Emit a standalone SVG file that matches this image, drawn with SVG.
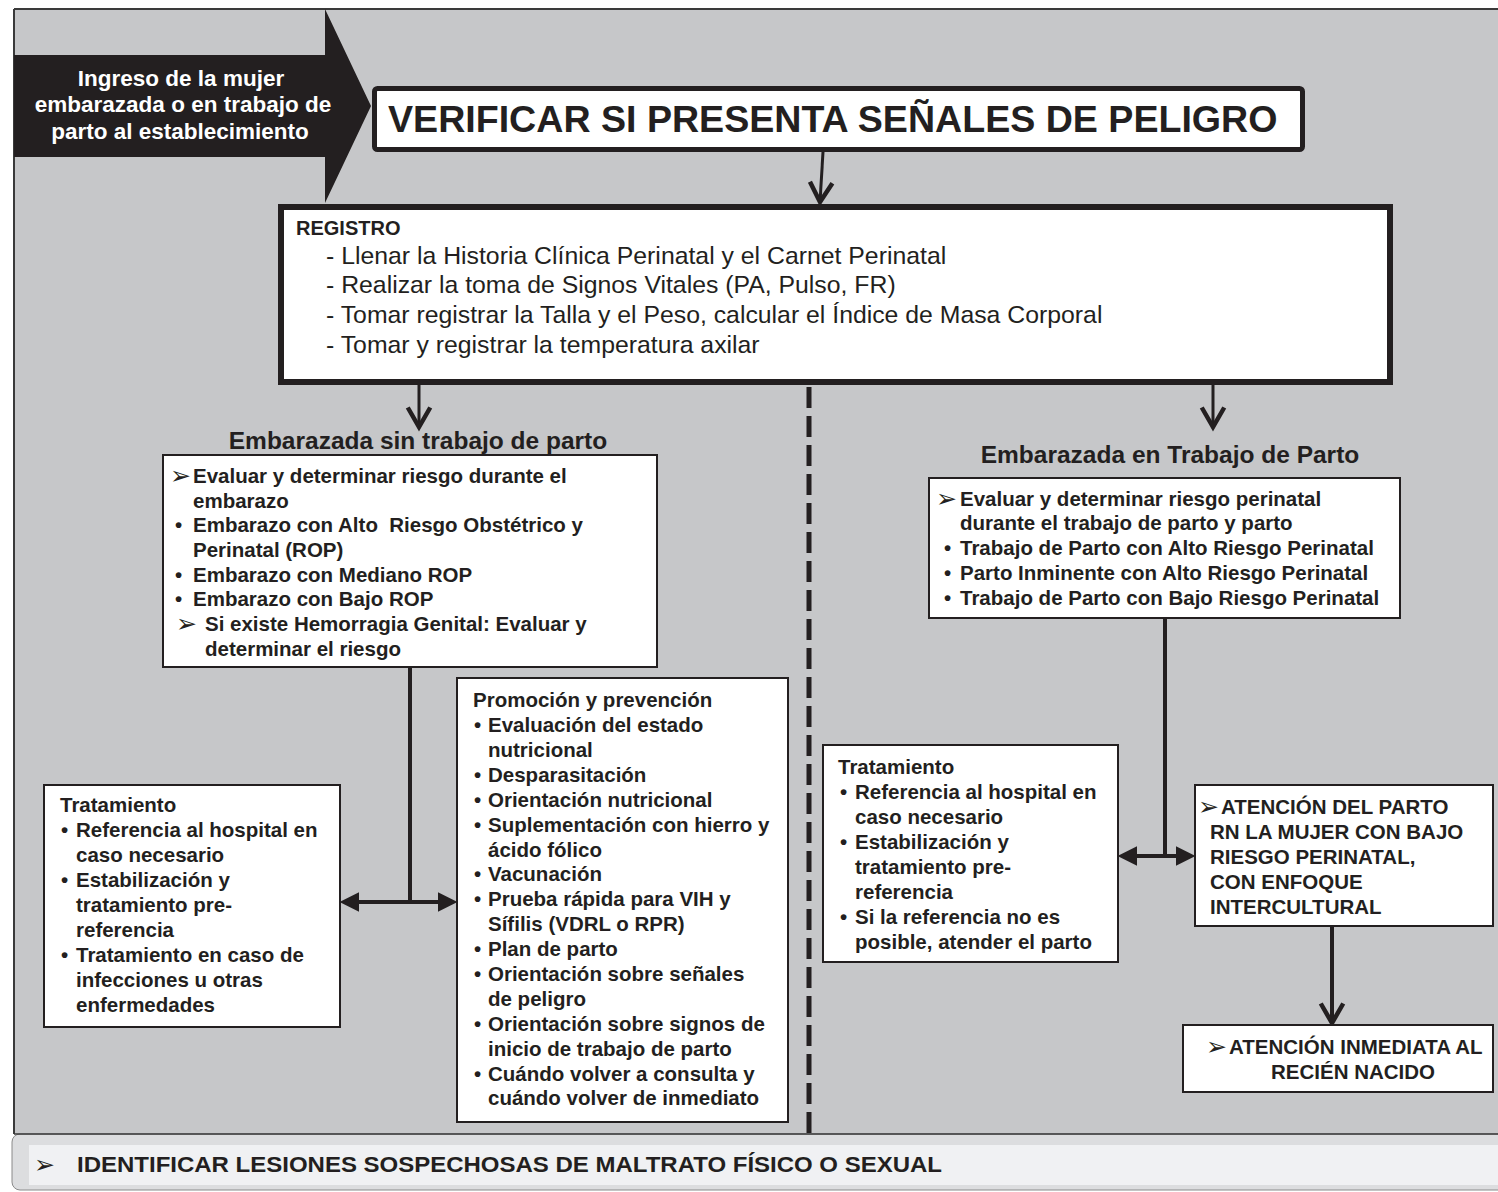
<svg xmlns="http://www.w3.org/2000/svg" width="1498" height="1192" viewBox="0 0 1498 1192">
<defs>
<style>
text{font-family:"Liberation Sans",Arial,"DejaVu Sans",sans-serif;fill:#231f20}
.b{font-weight:bold;font-size:20.5px}
.h{font-weight:bold;font-size:24.5px;text-anchor:middle}
.r{font-size:24.8px}
.w{font-weight:bold;font-size:22.5px;fill:#ffffff;text-anchor:middle}
.ar{font-family:"DejaVu Sans",sans-serif;font-size:25px}
.box{fill:#ffffff;stroke:#231f20;stroke-width:2}
.ln{fill:none;stroke:#231f20;stroke-width:4}
.thin{fill:none;stroke:#231f20;stroke-width:3}
</style>
<marker id="open" markerUnits="userSpaceOnUse" markerWidth="30" markerHeight="30" viewBox="-16 -10 20 20" refX="0" refY="0" orient="auto" overflow="visible">
<path d="M-13,-7.5 L0,0 L-13,7.5" fill="none" stroke="#231f20" stroke-width="3"/>
</marker>
<marker id="solid" markerUnits="userSpaceOnUse" markerWidth="30" markerHeight="30" viewBox="-14 -8 20 16" refX="0" refY="0" orient="auto-start-reverse" overflow="visible">
<path d="M-10,-6.5 L3,0 L-10,6.5 z" fill="#231f20"/>
</marker>
</defs>

<!-- background -->
<rect x="0" y="0" width="1498" height="1192" fill="#ffffff"/>
<rect x="14" y="9" width="1490" height="1125" fill="#c6c7c9"/>
<line x1="14" y1="9" x2="1498" y2="9" stroke="#3a3a3a" stroke-width="2"/>
<line x1="14" y1="9" x2="14" y2="1134" stroke="#3a3a3a" stroke-width="2"/>

<!-- bottom band -->
<g id="band">
<rect x="12" y="1134" width="1500" height="56" rx="8" fill="#dcdddf" stroke="#8a8a8a" stroke-width="1"/>
<line x1="14" y1="1134" x2="1498" y2="1134" stroke="#3a3a3a" stroke-width="1.5"/>
<rect x="29" y="1145" width="1475" height="40" fill="#f0f1f3"/>
<text class="ar" x="34" y="1173">➢</text>
<text x="77" y="1172" font-weight="bold" font-size="22" textLength="865" lengthAdjust="spacingAndGlyphs">IDENTIFICAR LESIONES SOSPECHOSAS DE MALTRATO FÍSICO O SEXUAL</text>
</g>

<!-- connectors -->
<g id="connectors">
<line x1="823" y1="152" x2="820" y2="202" class="thin" marker-end="url(#open)"/>
<line x1="419" y1="385" x2="419" y2="427" class="thin" marker-end="url(#open)"/>
<line x1="1213" y1="385" x2="1213" y2="427" class="thin" marker-end="url(#open)"/>
<line x1="809" y1="387" x2="809" y2="1134" stroke="#231f20" stroke-width="5" stroke-dasharray="21 8"/>
<line x1="410" y1="668" x2="410" y2="902" class="ln"/>
<line x1="344" y1="902" x2="453" y2="902" class="ln" marker-start="url(#solid)" marker-end="url(#solid)"/>
<line x1="1165" y1="618" x2="1165" y2="856" class="ln"/>
<line x1="1122" y1="856" x2="1191" y2="856" class="ln" marker-start="url(#solid)" marker-end="url(#solid)"/>
<line x1="1332" y1="926" x2="1332" y2="1023" class="ln" marker-end="url(#open)"/>
</g>

<!-- entry arrow -->
<g id="ingreso">
<polygon points="14,55 325,55 325,9 371,106 325,203 325,157 14,157" fill="#231f20"/>
<text class="w" x="181" y="86">Ingreso de la mujer</text>
<text class="w" x="183" y="112">embarazada o en trabajo de</text>
<text class="w" x="180" y="139">parto al establecimiento</text>
</g>

<!-- title -->
<g id="titulo">
<rect x="374.5" y="88.5" width="928" height="61" rx="3" fill="#ffffff" stroke="#231f20" stroke-width="5"/>
<text x="388" y="132" font-weight="bold" font-size="37.6">VERIFICAR SI PRESENTA SEÑALES DE PELIGRO</text>
</g>

<!-- registro -->
<g id="registro">
<rect x="281" y="207" width="1109" height="175" fill="#ffffff" stroke="#231f20" stroke-width="6"/>
<text x="296" y="235" font-weight="bold" font-size="20">REGISTRO</text>
<text class="r" x="326" y="264">- Llenar la Historia Clínica Perinatal y el Carnet Perinatal</text>
<text class="r" x="326" y="293">- Realizar la toma de Signos Vitales (PA, Pulso, FR)</text>
<text class="r" x="326" y="323">- Tomar registrar la Talla y el Peso, calcular el Índice de Masa Corporal</text>
<text class="r" x="326" y="353">- Tomar y registrar la temperatura axilar</text>
</g>

<!-- left heading + box -->
<g id="sin-trabajo">
<text class="h" x="418" y="449">Embarazada sin trabajo de parto</text>
<rect class="box" x="163" y="455" width="494" height="212"/>
<text class="ar" x="170" y="484">➢</text>
<text class="b" x="193" y="483">Evaluar y determinar riesgo durante el</text>
<text class="b" x="193" y="508">embarazo</text>
<text class="b" x="175" y="532">•</text>
<text class="b" x="193" y="532" xml:space="preserve">Embarazo con Alto  Riesgo Obstétrico y</text>
<text class="b" x="193" y="557">Perinatal (ROP)</text>
<text class="b" x="175" y="582">•</text>
<text class="b" x="193" y="582">Embarazo con Mediano ROP</text>
<text class="b" x="175" y="606">•</text>
<text class="b" x="193" y="606">Embarazo con Bajo ROP</text>
<text class="ar" x="176" y="632">➢</text>
<text class="b" x="205" y="631">Si existe Hemorragia Genital: Evaluar y</text>
<text class="b" x="205" y="656">determinar el riesgo</text>
</g>

<g id="tratamiento-izq">
<rect class="box" x="44" y="785" width="296" height="242"/>
<text class="b" x="60" y="812">Tratamiento</text>
<text class="b" x="61" y="837">•</text>
<text class="b" x="76" y="837">Referencia al hospital en</text>
<text class="b" x="76" y="862">caso necesario</text>
<text class="b" x="61" y="887">•</text>
<text class="b" x="76" y="887">Estabilización y</text>
<text class="b" x="76" y="912">tratamiento pre-</text>
<text class="b" x="76" y="937">referencia</text>
<text class="b" x="61" y="962">•</text>
<text class="b" x="76" y="962">Tratamiento en caso de</text>
<text class="b" x="76" y="987">infecciones u otras</text>
<text class="b" x="76" y="1012">enfermedades</text>
</g>

<g id="promocion">
<rect class="box" x="457" y="678" width="331" height="444"/>
<text class="b" x="473" y="707">Promoción y prevención</text>
<text class="b" x="474" y="732">•</text>
<text class="b" x="488" y="732">Evaluación del estado</text>
<text class="b" x="488" y="757">nutricional</text>
<text class="b" x="474" y="782">•</text>
<text class="b" x="488" y="782">Desparasitación</text>
<text class="b" x="474" y="807">•</text>
<text class="b" x="488" y="807">Orientación nutricional</text>
<text class="b" x="474" y="832">•</text>
<text class="b" x="488" y="832">Suplementación con hierro y</text>
<text class="b" x="488" y="857">ácido fólico</text>
<text class="b" x="474" y="881">•</text>
<text class="b" x="488" y="881">Vacunación</text>
<text class="b" x="474" y="906">•</text>
<text class="b" x="488" y="906">Prueba rápida para VIH y</text>
<text class="b" x="488" y="931">Sífilis (VDRL o RPR)</text>
<text class="b" x="474" y="956">•</text>
<text class="b" x="488" y="956">Plan de parto</text>
<text class="b" x="474" y="981">•</text>
<text class="b" x="488" y="981">Orientación sobre señales</text>
<text class="b" x="488" y="1006">de peligro</text>
<text class="b" x="474" y="1031">•</text>
<text class="b" x="488" y="1031">Orientación sobre signos de</text>
<text class="b" x="488" y="1056">inicio de trabajo de parto</text>
<text class="b" x="474" y="1081">•</text>
<text class="b" x="488" y="1081">Cuándo volver a consulta y</text>
<text class="b" x="488" y="1105">cuándo volver de inmediato</text>
</g>

<!-- right side -->
<g id="en-trabajo">
<text class="h" x="1170" y="463">Embarazada en Trabajo de Parto</text>
<rect class="box" x="929" y="478" width="471" height="140"/>
<text class="ar" x="936" y="507">➢</text>
<text class="b" x="960" y="506">Evaluar y determinar riesgo perinatal</text>
<text class="b" x="960" y="530">durante el trabajo de parto y parto</text>
<text class="b" x="944" y="555">•</text>
<text class="b" x="960" y="555">Trabajo de Parto con Alto Riesgo Perinatal</text>
<text class="b" x="944" y="580">•</text>
<text class="b" x="960" y="580">Parto Inminente con Alto Riesgo Perinatal</text>
<text class="b" x="944" y="605">•</text>
<text class="b" x="960" y="605">Trabajo de Parto con Bajo Riesgo Perinatal</text>
</g>

<g id="tratamiento-der">
<rect class="box" x="823" y="745" width="295" height="217"/>
<text class="b" x="838" y="774">Tratamiento</text>
<text class="b" x="840" y="799">•</text>
<text class="b" x="855" y="799">Referencia al hospital en</text>
<text class="b" x="855" y="824">caso necesario</text>
<text class="b" x="840" y="849">•</text>
<text class="b" x="855" y="849">Estabilización y</text>
<text class="b" x="855" y="874">tratamiento pre-</text>
<text class="b" x="855" y="899">referencia</text>
<text class="b" x="840" y="924">•</text>
<text class="b" x="855" y="924">Si la referencia no es</text>
<text class="b" x="855" y="949">posible, atender el parto</text>
</g>

<g id="atencion-parto">
<rect class="box" x="1195" y="785" width="298" height="141"/>
<text class="ar" x="1198" y="815">➢</text>
<text class="b" x="1221" y="814">ATENCIÓN DEL PARTO</text>
<text class="b" x="1210" y="839">RN LA MUJER CON BAJO</text>
<text class="b" x="1210" y="864">RIESGO PERINATAL,</text>
<text class="b" x="1210" y="889">CON ENFOQUE</text>
<text class="b" x="1210" y="914">INTERCULTURAL</text>
</g>

<g id="atencion-rn">
<rect class="box" x="1183" y="1025" width="310" height="67"/>
<text class="ar" x="1206" y="1055">➢</text>
<text class="b" x="1229" y="1054">ATENCIÓN INMEDIATA AL</text>
<text class="b" x="1353" y="1079" text-anchor="middle">RECIÉN NACIDO</text>
</g>
</svg>
